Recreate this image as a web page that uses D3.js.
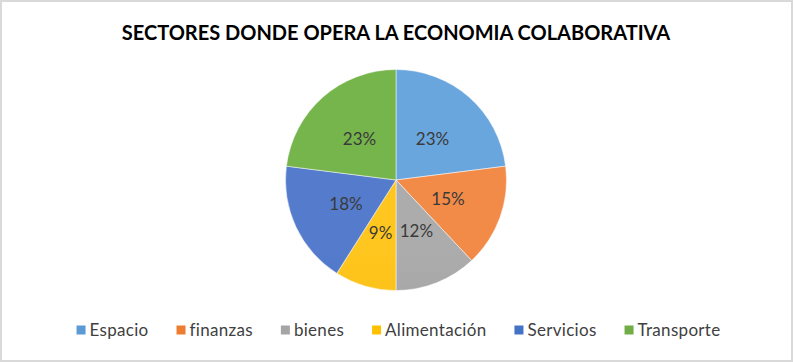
<!DOCTYPE html>
<html>
<head>
<meta charset="utf-8">
<script src="https://cdn.jsdelivr.net/npm/d3@7/dist/d3.min.js"></script>
<style>
  body { margin: 0; background: #fff; }
  text { font-family: Lato, "Open Sans", sans-serif; }
</style>
</head>
<body>
<div id="chart"></div>
<script>
// chart data
var sectores = ["Espacio", "finanzas", "bienes", "Alimentación", "Servicios", "Transporte"];
var porcentajes = [23, 15, 12, 9, 18, 23];
var titulo = "SECTORES DONDE OPERA LA ECONOMIA COLABORATIVA";

// office-like colours: light (top) and dark (bottom) of each slice gradient
var colorTop = ["#6aa6de", "#f28a48", "#acacac", "#ffc61f", "#557ccc", "#76b44c"];
var colorBottom = ["#3f82c8", "#e2681a", "#979797", "#eeb200", "#2f5dba", "#5c9c35"];
var colorLegend = ["#5b9bd5", "#ed7d31", "#a5a5a5", "#ffc000", "#4472c4", "#70ad47"];

var width = 793, height = 362;
var cx = 396, cy = 180, radius = 110.5;

var svg = d3.select("#chart").append("svg")
    .attr("width", width)
    .attr("height", height);

// frame
svg.append("rect")
    .attr("x", 1).attr("y", 1)
    .attr("width", width - 2).attr("height", height - 2)
    .attr("fill", "#fff")
    .attr("stroke", "#d9d9d9")
    .attr("stroke-width", 2);

// title
svg.append("text")
    .attr("x", width / 2 - 0.5)
    .attr("y", 40)
    .attr("text-anchor", "middle")
    .attr("font-size", 20)
    .attr("font-weight", "bold")
    .attr("fill", "#000")
    .text(titulo);

// gradients
var defs = svg.append("defs");
sectores.forEach(function (s, i) {
    var g = defs.append("linearGradient")
        .attr("id", "grad" + i)
        .attr("gradientUnits", "userSpaceOnUse")
        .attr("x1", 0).attr("y1", cy - radius)
        .attr("x2", 0).attr("y2", cy + radius);
    g.append("stop").attr("offset", "0%").attr("stop-color", colorTop[i]);
    g.append("stop").attr("offset", "100%").attr("stop-color", colorBottom[i]);
});

var pie = d3.pie()
    .sort(null)
    .value(function (d) { return d; });

var arc = d3.arc()
    .innerRadius(0)
    .outerRadius(radius);

var labelArc = d3.arc()
    .innerRadius(radius * 0.5)
    .outerRadius(radius * 0.5);

var g = svg.append("g")
    .attr("transform", "translate(" + cx + "," + cy + ")");

var slices = pie(porcentajes);

g.selectAll(".arc")
    .data(slices)
    .enter().append("path")
    .attr("class", "arc")
    .attr("d", arc)
    .attr("fill", function (d, i) { return "url(#grad" + i + ")"; })
    .attr("stroke", "#fff")
    .attr("stroke-width", 0.5);

g.selectAll(".pct")
    .data(slices)
    .enter().append("text")
    .attr("class", "pct")
    .attr("transform", function (d) {
        return "translate(" + labelArc.centroid(d) + ")";
    })
    .attr("text-anchor", "middle")
    .attr("dy", "0.36em")
    .attr("font-size", 17)
    .attr("fill", "#3a3a3a")
    .text(function (d) { return d.data + "%"; });

// legend
var sq = 9, gapText = 4, gapItem = 28;
var legend = svg.append("g").attr("class", "legend");

var items = legend.selectAll(".item")
    .data(sectores)
    .enter().append("g")
    .attr("class", "item");

items.append("rect")
    .attr("width", sq)
    .attr("height", sq)
    .attr("y", -sq / 2)
    .attr("fill", function (d, i) { return colorLegend[i]; });

items.append("text")
    .attr("x", sq + gapText)
    .attr("dy", "0.35em")
    .attr("font-size", 17)
    .attr("letter-spacing", 0.3)
    .attr("fill", "#404040")
    .text(function (d) { return d; });

var widths = [];
items.each(function () {
    widths.push(sq + gapText + d3.select(this).select("text").node().getComputedTextLength());
});
var total = d3.sum(widths) + gapItem * (widths.length - 1);
var xPos = (width - total) / 2 + 2;
items.attr("transform", function (d, i) {
    var x = xPos;
    xPos += widths[i] + gapItem;
    return "translate(" + x + ",330)";
});
</script>
</body>
</html>
